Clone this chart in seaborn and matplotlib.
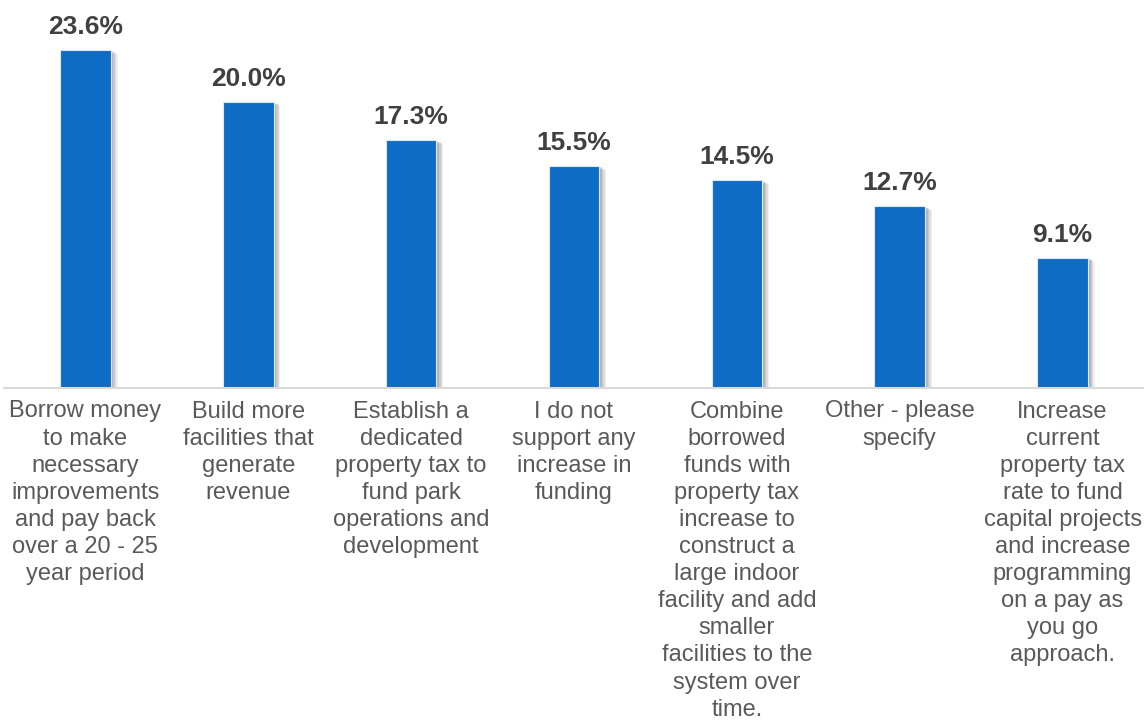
import matplotlib
matplotlib.use("Agg")
import matplotlib.pyplot as plt
import matplotlib.patheffects as pe
import seaborn as sns
import pandas as pd

categories = [
    "Borrow money\nto make\nnecessary\nimprovements\nand pay back\nover a 20 - 25\nyear period",
    "Build more\nfacilities that\ngenerate\nrevenue",
    "Establish a\ndedicated\nproperty tax to\nfund park\noperations and\ndevelopment",
    "I do not\nsupport any\nincrease in\nfunding",
    "Combine\nborrowed\nfunds with\nproperty tax\nincrease to\nconstruct a\nlarge indoor\nfacility and add\nsmaller\nfacilities to the\nsystem over\ntime.",
    "Other - please\nspecify",
    "Increase\ncurrent\nproperty tax\nrate to fund\ncapital projects\nand increase\nprogramming\non a pay as\nyou go\napproach.",
]
values = [23.6, 20.0, 17.3, 15.5, 14.5, 12.7, 9.1]

df = pd.DataFrame({"option": categories, "pct": values})

sns.set_theme(style="white")
plt.rcParams["font.family"] = ["Liberation Sans", "DejaVu Sans"]

fig = plt.figure(figsize=(11.44, 7.25), dpi=100)
ax = fig.add_axes([4 / 1144, 1 - 388 / 725, 1140 / 1144, 388 / 725])

sns.barplot(data=df, x="option", y="pct", color="#0F6CC4", saturation=1,
            width=0.31, ax=ax, edgecolor="#DCE8F5", linewidth=0.8)

# soft drop shadow built from a few stacked translucent offsets
shadow = [pe.SimplePatchShadow(offset=(k, -k * 0.5), shadow_rgbFace="#6F6F6F", alpha=a)
          for k, a in [(5, 0.10), (4, 0.14), (3, 0.18), (2, 0.22)]]
shadow.append(pe.Normal())
for bar in ax.patches:
    bar.set_path_effects(shadow)

for bar, v in zip(ax.patches, values):
    ax.annotate(f"{v:.1f}%", (bar.get_x() + bar.get_width() / 2, bar.get_height()),
                xytext=(0, 8), textcoords="offset points", ha="center", va="bottom",
                fontsize=19, fontweight="bold", color="#404040")

ax.set_ylim(0, 27.1)
ax.set_xlim(-0.5, len(categories) - 0.5)
ax.set_xlabel("")
ax.set_ylabel("")
ax.set_yticks([])
ax.tick_params(axis="x", length=0, pad=9)
for lbl in ax.get_xticklabels():
    lbl.set_fontsize(17)
    lbl.set_color("#595959")
    lbl.set_linespacing(1.3)
    lbl.set_ha("center")

for side in ["top", "left", "right"]:
    ax.spines[side].set_visible(False)
ax.spines["bottom"].set_color("#D9D9D9")
ax.spines["bottom"].set_linewidth(1.5)

fig.savefig("out.png", dpi=100)
